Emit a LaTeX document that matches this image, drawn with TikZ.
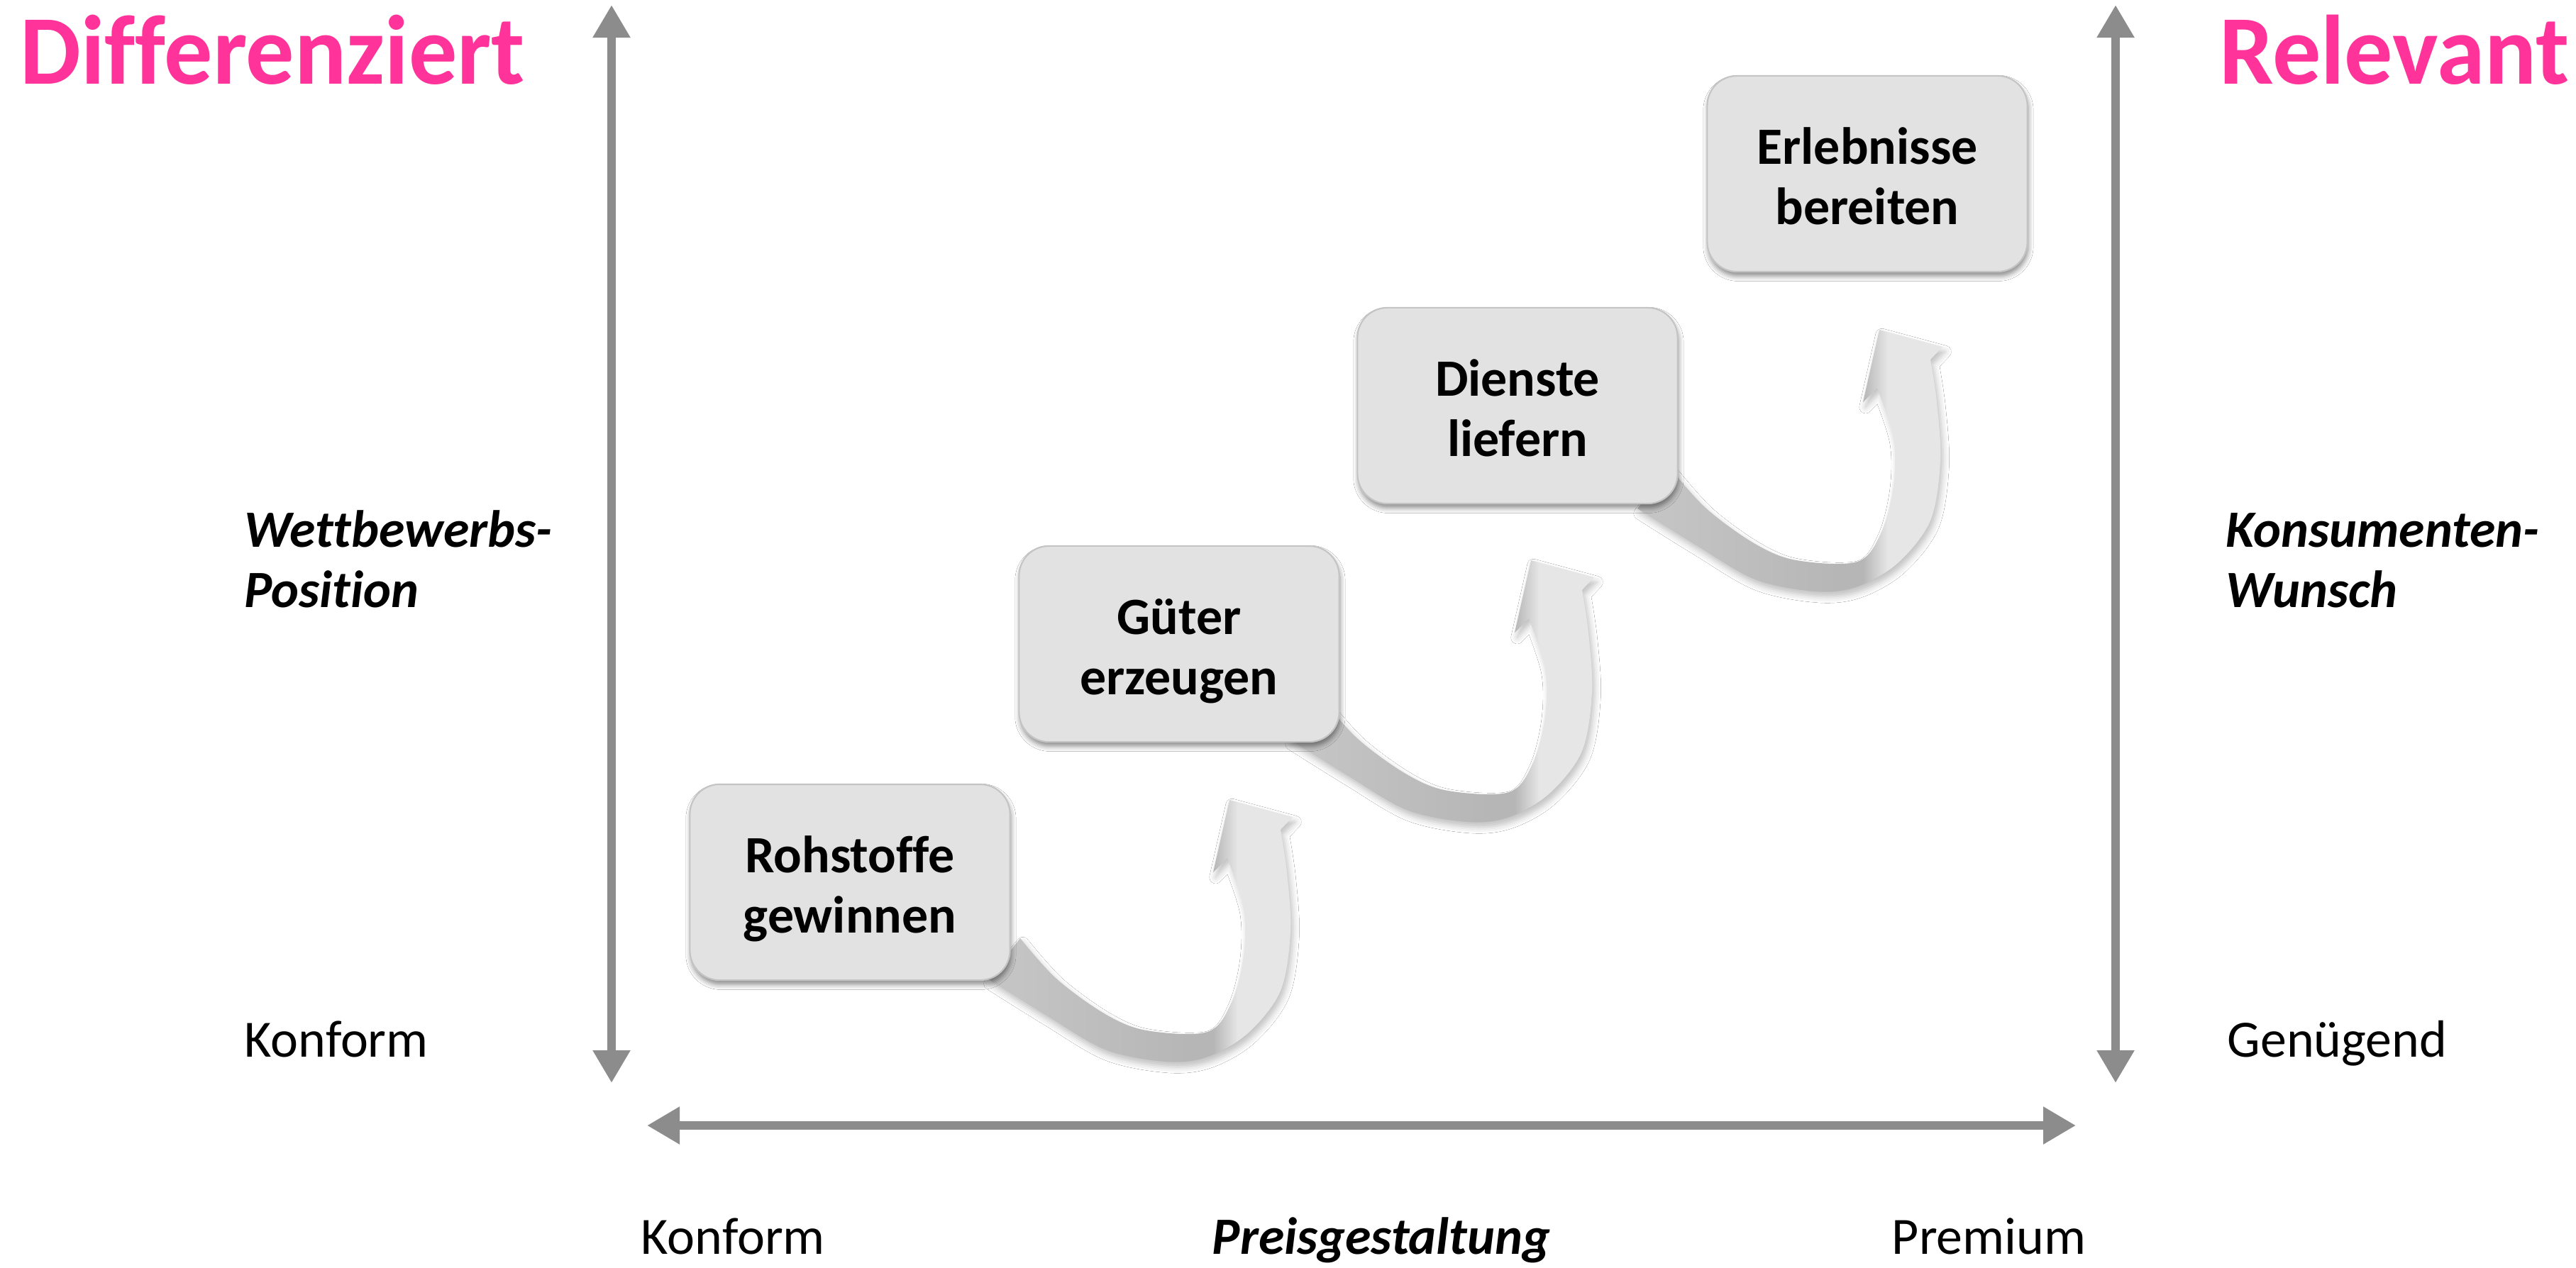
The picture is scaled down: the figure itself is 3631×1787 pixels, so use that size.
\documentclass[tikz,border=0pt]{standalone}
\usepackage{fontspec}
\setmainfont{Carlito}[Ligatures=NoCommon]
\newfontfamily\pinkfont[FakeStretch=0.98,Ligatures=NoCommon]{Carlito}
\usetikzlibrary{arrows.meta,shadows.blur}
\definecolor{pinkc}{HTML}{FF3399}
\definecolor{axisgray}{HTML}{8C8C8C}
\definecolor{boxfill}{HTML}{E2E2E2}
\definecolor{boxline}{HTML}{C4C4C4}
\definecolor{rdarka}{HTML}{C4C4C4}
\definecolor{rdarkb}{HTML}{B6B6B6}
\definecolor{rlight}{HTML}{E6E6E6}
\pgfdeclarehorizontalshading{ribbonshade}{100bp}{color(0bp)=(rdarka); color(30bp)=(rdarka); color(58bp)=(rdarkb); color(62bp)=(rdarkb); color(66bp)=(rlight); color(100bp)=(rlight)}
\tikzset{
  stepbox/.style={rectangle, rounded corners=0.42cm, minimum width=4.51cm, minimum height=2.76cm,
    inner sep=0pt, fill=boxfill, draw=boxline, line width=0.6pt,
    blur shadow={shadow xshift=0.4pt, shadow yshift=-1.8pt, shadow blur radius=2pt, shadow opacity=45}},
  steptext/.style={font=\fontsize{21}{24}\selectfont\bfseries, align=center, inner sep=0pt},
  axlabel/.style={font=\fontsize{21}{24.2}\selectfont, inner sep=0pt},
  axtitle/.style={font=\fontsize{21}{24.2}\selectfont\bfseries\itshape, inner sep=0pt, align=left},
  pinktitle/.style={font=\fontsize{39.5}{46}\selectfont\pinkfont\bfseries, text=pinkc, inner sep=0pt},
  axisline/.style={draw=axisgray, line width=0.12cm, >={Triangle[length=0.46cm,width=0.5cm]}, <->},
  ribbon/.style={shading=ribbonshade,
    blur shadow={shadow xshift=1pt, shadow yshift=-2pt, shadow blur radius=2.5pt, shadow opacity=25}},
  curvearrow/.pic={
    \shade[ribbon] plot[smooth, tension=0.55] coordinates {(-341,252) (-261,302) (-175,352) (-89,369) (-31,362) (26,329) (72,269) (86,185) (81,102) (72,42)}
      -- (89,24) -- (0,0) -- (-23,102)
      -- plot[smooth, tension=0.55] coordinates {(-3,82) (20,152) (20,219) (3,285) (-31,327) (-117,325) (-175,302) (-244,252) (-295,195)}
      -- cycle;
  }
}
\begin{document}
\begin{tikzpicture}[x=0.01cm,y=-0.01cm]
\useasboundingbox (0,0) rectangle (3631,1787);
\fill[white] (0,0) rectangle (3631,1787);

% axes
\coordinate (lt) at (862,7);
\coordinate (lb) at (862,1527);
\coordinate (rt) at (2982,7);
\coordinate (rb) at (2982,1527);
\coordinate (hl) at (912,1587);
\coordinate (hr) at (2926,1587);
\draw[axisline] (lb) -- (lt);
\draw[axisline] (rb) -- (rt);
\draw[axisline] (hl) -- (hr);

% titles
\node[pinktitle, anchor=base west] (tdiff) at (28,118) {Differenziert};
\node[pinktitle, anchor=base east] (trel) at (3622,118) {Relevant};

% axis labels
\node[axtitle, anchor=north west] (twett) at (344,711) {\strut Wettbewerbs-\\\strut Position};
\node[axtitle, anchor=north west] (tkons) at (3137,711) {\strut Konsumenten-\\\strut Wunsch};
\node[axlabel, anchor=base west] (tkonl) at (344,1490) {Konform};
\node[axlabel, anchor=base west] (tgen) at (3139,1490) {Genügend};
\node[axlabel, anchor=base west] (tkonb) at (903,1768) {Konform};
\node[axtitle, anchor=base] (tpreis) at (1947,1768) {Preisgestaltung};
\node[axlabel, anchor=base east] (tprem) at (2941,1768) {Premium};

% curved arrows
\pic at (1733,1128) {curvearrow};
\pic at (2158,790) {curvearrow};
\pic at (2649,465) {curvearrow};

% boxes
\node[stepbox] (b1) at (1198,1244) {};
\node[steptext] (t1) at (1198,1256) {\strut Rohstoffe\\\strut gewinnen};
\node[stepbox] (b2) at (1662,908) {};
\node[steptext] (t2) at (1662,920) {\strut Güter\\\strut erzeugen};
\node[stepbox] (b3) at (2139,572) {};
\node[steptext] (t3) at (2139,584) {\strut Dienste\\\strut liefern};
\node[stepbox] (b4) at (2632,245) {};
\node[steptext] (t4) at (2632,257) {\strut Erlebnisse\\\strut bereiten};
\end{tikzpicture}
\end{document}
